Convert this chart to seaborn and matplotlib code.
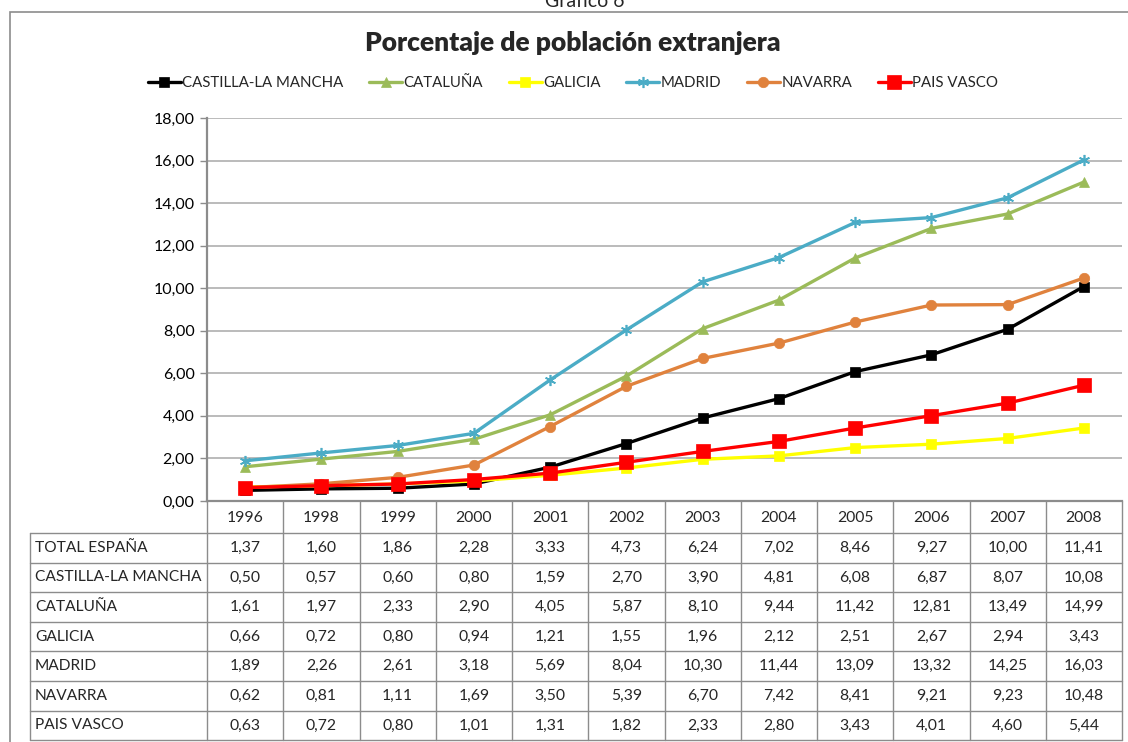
import matplotlib
matplotlib.use("Agg")
import matplotlib.pyplot as plt
import numpy as np
import pandas as pd
import seaborn as sns
from matplotlib.patches import Rectangle
from matplotlib.ticker import FuncFormatter, MultipleLocator

# ---------------- data ----------------
years = ["1996", "1998", "1999", "2000", "2001", "2002", "2003", "2004",
         "2005", "2006", "2007", "2008"]
total_espana = [1.37, 1.60, 1.86, 2.28, 3.33, 4.73, 6.24, 7.02, 8.46, 9.27, 10.00, 11.41]
castilla = [0.50, 0.57, 0.60, 0.80, 1.59, 2.70, 3.90, 4.81, 6.08, 6.87, 8.07, 10.08]
cataluna = [1.61, 1.97, 2.33, 2.90, 4.05, 5.87, 8.10, 9.44, 11.42, 12.81, 13.49, 14.99]
galicia = [0.66, 0.72, 0.80, 0.94, 1.21, 1.55, 1.96, 2.12, 2.51, 2.67, 2.94, 3.43]
madrid = [1.89, 2.26, 2.61, 3.18, 5.69, 8.04, 10.30, 11.44, 13.09, 13.32, 14.25, 16.03]
navarra = [0.62, 0.81, 1.11, 1.69, 3.50, 5.39, 6.70, 7.42, 8.41, 9.21, 9.23, 10.48]
pais_vasco = [0.63, 0.72, 0.80, 1.01, 1.31, 1.82, 2.33, 2.80, 3.43, 4.01, 4.60, 5.44]

series_names = ["CASTILLA-LA MANCHA", "CATALUÑA", "GALICIA", "MADRID", "NAVARRA", "PAIS VASCO"]
series_values = [castilla, cataluna, galicia, madrid, navarra, pais_vasco]
table_names = ["TOTAL ESPAÑA"] + series_names
table_values = [total_espana] + series_values

title = "Porcentaje de población extranjera"
caption = "Gráfico 6"

# ---------------- styles ----------------
colors = ["#000000", "#9BBB59", "#FFFF00", "#4BACC6", "#E0823D", "#FF0000"]
markers = ["s", "^", "s", (6, 2, 0), "o", "s"]
msizes = [7, 7.5, 7, 8, 7.5, 9.5]

sns.set_theme(style="white")
plt.rcParams["font.family"] = ["Lato", "DejaVu Sans"]

W, H = 1128, 742
fig = plt.figure(figsize=(W / 100, H / 100), dpi=100)

def fx(px):
    return px / W

def fy(py):
    return 1 - py / H

ax_l, ax_r, ax_t, ax_b = 207, 1122, 118, 501
ax = fig.add_axes([fx(ax_l), fy(ax_b), fx(ax_r - ax_l), fy(ax_t) - fy(ax_b)])

rows = []
for name, vals in zip(series_names, series_values):
    for i, v in enumerate(vals):
        rows.append({"serie": name, "x": i, "valor": v})
df = pd.DataFrame(rows)

for name, c, m, ms in zip(series_names, colors, markers, msizes):
    sub = df[df["serie"] == name]
    sns.lineplot(data=sub, x="x", y="valor", ax=ax, color=c, marker=m,
                 markersize=ms, linewidth=2.4, label=name,
                 markeredgecolor=c, markeredgewidth=1.2 if m == (6, 2, 0) else 0.5)

ax.set_xlim(-0.5, len(years) - 0.5)
ax.set_ylim(0, 18)
ax.yaxis.set_major_locator(MultipleLocator(2))
ax.yaxis.set_major_formatter(FuncFormatter(lambda v, p: f"{v:.2f}".replace(".", ",")))
ax.set_xticks([])
ax.set_xlabel("")
ax.set_ylabel("")
ax.grid(axis="y", color="#AFAFAF", linewidth=1.2)
ax.set_axisbelow(True)
for s in ["top", "right"]:
    ax.spines[s].set_visible(False)
for s in ["left", "bottom"]:
    ax.spines[s].set_color("#8C8C8C")
    ax.spines[s].set_linewidth(1.6)
ax.tick_params(axis="y", which="major", left=True, length=5, width=1, color="#8C8C8C",
               labelsize=11.5, pad=4, labelcolor="#000000")

leg = ax.legend(loc="center", bbox_to_anchor=(fx(573), fy(83)),
                bbox_transform=fig.transFigure, ncol=6, frameon=False,
                fontsize=10.8, handlelength=2.2, handletextpad=0.1,
                columnspacing=1.7)

fig.text(fx(573), fy(43), title, ha="center", va="center", fontsize=19,
         fontweight="heavy")
fig.text(fx(585), fy(7), caption, ha="center", va="baseline", fontsize=14)

# outer frame
fig.patches.append(Rectangle((fx(10), fy(742) - 0.01), 1.2, fy(12) - fy(742) + 0.01,
                             transform=fig.transFigure, fill=False,
                             edgecolor="#8C8C8C", linewidth=1.2))

# ---------------- table ----------------
n = len(years)
col_w = (ax_r - ax_l) / n
lab_l = 30
header_h = 32
row_h = 29.6
line_c = "#8C8C8C"

def hline(y, x0, x1):
    fig.add_artist(plt.Line2D([fx(x0), fx(x1)], [fy(y), fy(y)],
                              transform=fig.transFigure, color=line_c, linewidth=1))

def vline(x, y0, y1):
    fig.add_artist(plt.Line2D([fx(x), fx(x)], [fy(y0), fy(y1)],
                              transform=fig.transFigure, color=line_c, linewidth=1))

y_bottom = ax_b + header_h + row_h * len(table_names)
for k in range(n + 1):
    vline(ax_l + k * col_w, ax_b, y_bottom)
vline(lab_l, ax_b + header_h, y_bottom)
for r in range(len(table_names) + 1):
    hline(ax_b + header_h + r * row_h, lab_l, ax_r)

for k, yr in enumerate(years):
    fig.text(fx(ax_l + (k + 0.5) * col_w), fy(ax_b + header_h / 2 + 1), yr,
             ha="center", va="center", fontsize=11.3)

for r, (name, vals) in enumerate(zip(table_names, table_values)):
    yc = ax_b + header_h + (r + 0.5) * row_h
    fig.text(fx(lab_l + 5), fy(yc), name, ha="left", va="center", fontsize=11.2)
    for k, v in enumerate(vals):
        fig.text(fx(ax_l + (k + 0.5) * col_w), fy(yc), f"{v:.2f}".replace(".", ","),
                 ha="center", va="center", fontsize=11.3)

fig.savefig("out.png", dpi=100)
